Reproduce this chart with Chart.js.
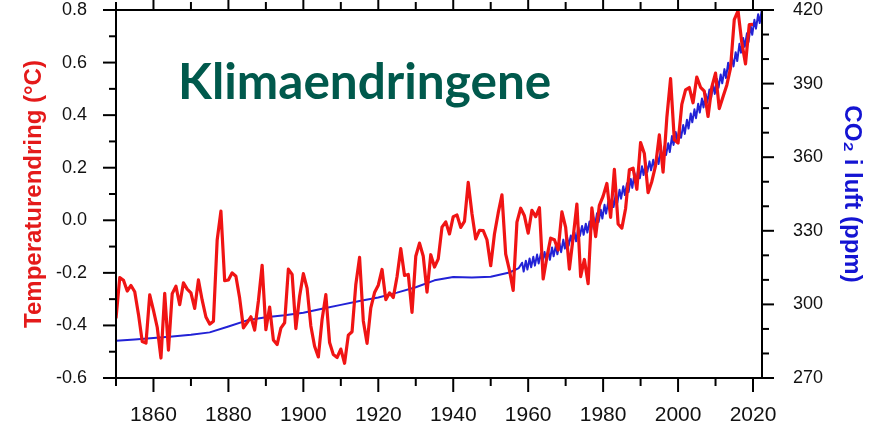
<!DOCTYPE html>
<html><head><meta charset="utf-8">
<script src="https://cdn.jsdelivr.net/npm/chart.js@4.4.1/dist/chart.umd.min.js"></script>
<style>html,body{margin:0;padding:0;background:#fff;overflow:hidden}#wrap{position:relative;width:874px;height:430px}</style>
</head><body><div id="wrap"><canvas id="c" width="874" height="430"></canvas></div>
<script>
// ---------- DATA ----------
const tempStartYear = 1850;
const tempValues = [
-0.373,-0.218,-0.228,-0.269,-0.248,-0.272,-0.358,-0.461,-0.467,-0.284,
-0.343,-0.407,-0.524,-0.278,-0.494,-0.279,-0.251,-0.321,-0.238,-0.262,
-0.276,-0.335,-0.227,-0.304,-0.368,-0.395,-0.384,-0.075,0.035,-0.230,
-0.227,-0.200,-0.213,-0.296,-0.409,-0.389,-0.367,-0.418,-0.307,-0.171,
-0.416,-0.330,-0.455,-0.473,-0.410,-0.390,-0.186,-0.206,-0.412,-0.289,
-0.203,-0.259,-0.402,-0.479,-0.520,-0.377,-0.283,-0.465,-0.511,-0.522,
-0.490,-0.544,-0.437,-0.424,-0.244,-0.141,-0.383,-0.468,-0.333,-0.275,
-0.247,-0.187,-0.302,-0.276,-0.294,-0.215,-0.108,-0.210,-0.206,-0.350,
-0.137,-0.087,-0.137,-0.273,-0.131,-0.178,-0.147,-0.026,-0.006,-0.052,
0.014,0.020,-0.027,-0.004,0.144,0.025,-0.071,-0.038,-0.039,-0.074,
-0.173,-0.052,0.028,0.097,-0.129,-0.190,-0.267,-0.007,0.046,0.017,
-0.049,0.038,0.014,0.048,-0.223,-0.140,-0.068,-0.074,-0.113,0.032,
-0.027,-0.186,-0.065,0.062,-0.214,-0.149,-0.241,0.047,-0.062,0.057,
0.092,0.140,0.011,0.194,-0.014,-0.030,0.045,0.192,0.198,0.118,
0.296,0.254,0.105,0.148,0.208,0.325,0.183,0.390,0.539,0.306,
0.294,0.441,0.496,0.505,0.447,0.545,0.506,0.491,0.395,0.506,
0.560,0.425,0.470,0.514,0.579,0.763,0.797,0.677,0.595,0.744,
0.745];

// ice-core CO2 (ppm)
const iceYears = [1850,1855,1860,1865,1870,1875,1880,1885,1890,1895,1900,1905,1910,1915,1920,1925,1930,1935,1940,1945,1950,1955,1957.5];
const iceCO2   = [285.2,285.7,286.3,286.9,287.6,288.6,291.0,293.5,294.8,295.6,296.6,298.2,299.8,301.4,302.8,304.8,307.0,309.8,311.2,311.0,311.3,313.0,314.8];

// Mauna Loa CO2: seasonal high (May) and low (Oct) per year, from 1958
const mloStartYear = 1958;
const mloHigh = [
317.0,317.8,318.7,319.4,320.3,320.8,321.4,321.8,323.2,324.0,
324.9,326.4,327.5,328.1,329.3,331.5,332.0,332.9,333.8,335.6,
337.2,338.6,340.6,341.9,343.3,345.0,346.7,348.2,349.4,351.1,
353.5,355.0,356.3,357.5,358.3,359.0,360.8,362.8,364.5,365.7,
368.6,370.3,371.5,373.1,375.3,377.8,379.5,381.8,383.9,385.8,
387.6,389.4,391.9,393.7,395.9,398.5,400.6,402.8,406.2,408.6,
410.5,413.5,416.0,418.3,420.4];
const mloLow = [
313.4,314.2,315.1,315.8,316.7,317.2,317.8,318.2,319.6,320.4,
321.3,322.8,323.9,324.5,325.7,327.9,328.4,329.3,330.2,332.0,
333.6,335.0,337.0,338.3,339.7,341.4,343.1,344.6,345.8,347.5,
349.9,351.4,352.7,353.9,354.7,355.4,357.2,359.2,360.9,362.1,
365.0,366.7,367.9,369.5,371.7,374.2,375.9,378.2,380.3,382.2,
384.0,385.8,388.3,390.1,392.3,394.9,397.0,399.2,402.6,405.0,
406.9,409.9,412.4,414.7,416.8];
const mloHighMonth = 5, mloLowMonth = 10;

const xTicks = [1860,1880,1900,1920,1940,1960,1980,2000,2020];
const yTempTicks = [-0.6,-0.4,-0.2,0.0,0.2,0.4,0.6,0.8];
const yCO2Ticks = [270,300,330,360,390,420];
const chartTitle = 'Klimaendringene';
const yTitle = 'Temperaturendring (°C)';
const y2Title = 'CO\u2082 i luft (ppm)';

// ---------- BUILD ----------
const tempData = tempValues.map((v,i)=>({x: tempStartYear+i, y: v}));
const co2Data = iceYears.map((yr,i)=>({x: yr, y: iceCO2[i]}));
mloHigh.forEach((v,i)=>{
  const yr = mloStartYear+i;
  co2Data.push({x: yr+(mloHighMonth-0.5)/12, y: v});
  co2Data.push({x: yr+(mloLowMonth-0.5)/12, y: mloLow[i]});
});

const F = "'Liberation Sans', Arial, Helvetica, sans-serif";
const tickColor = '#111';

const deco = {
  id: 'deco',
  afterDraw(chart){
    const {ctx, chartArea: a, scales} = chart;
    ctx.save();
    ctx.strokeStyle = '#000'; ctx.lineWidth = 2; ctx.lineCap = 'butt';
    const line = (x1,y1,x2,y2)=>{ctx.beginPath();ctx.moveTo(x1,y1);ctx.lineTo(x2,y2);ctx.stroke();};
    for (let k=-6;k<=8;k++){
      const y = scales.y.getPixelForValue(k/10);
      line(a.left-(k%2===0?13:7), y, a.left, y);
    }
    for (let v=270; v<=420; v+=10){
      const y = scales.y2.getPixelForValue(v);
      line(a.right, y, a.right+(v%30===0?12:7), y);
    }
    for (let yr=1850; yr<=2020; yr+=10){
      const x = scales.x.getPixelForValue(yr);
      const L = (yr%20===0)?14:8;
      line(x, a.bottom, x, a.bottom+L);
      line(x, a.top, x, a.top-L);
    }
    ctx.strokeRect(a.left, a.top, a.right-a.left, a.bottom-a.top);
    ctx.fillStyle = '#00594c';
    ctx.font = "bold 49.5px Lato, 'Open Sans', sans-serif";
    ctx.textAlign = 'left'; ctx.textBaseline = 'alphabetic';
    ctx.fillText(chartTitle, a.left+62, 99);
    ctx.restore();
  }
};

const fmt1 = v => (Math.abs(v)<1e-9 ? '0.0' : Number(v).toFixed(1));
const fitV = w => s => { s.width = w; s.paddingTop = 0; s.paddingBottom = 0; };

new Chart(document.getElementById('c'), {
  type: 'line',
  data: { datasets: [
    { label: 'Temperatur', data: tempData, xAxisID: 'x', yAxisID: 'y',
      borderColor: '#f01414', borderWidth: 3.2, pointRadius: 0, tension: 0,
      borderJoinStyle: 'round', fill: false },
    { label: 'CO2', data: co2Data, xAxisID: 'x', yAxisID: 'y2',
      borderColor: '#2222d6', borderWidth: 2, pointRadius: 0, tension: 0,
      borderJoinStyle: 'round', fill: false }
  ]},
  options: {
    responsive: false, animation: false, devicePixelRatio: 1,
    layout: { padding: { top: 10, left: 0, right: 0, bottom: 0 } },
    plugins: { legend: { display: false }, tooltip: { enabled: false }, title: { display: false } },
    scales: {
      x: { type: 'linear', position: 'bottom', min: 1850, max: 2022.4,
        afterBuildTicks: s => { s.ticks = xTicks.map(v=>({value:v})); },
        ticks: { font: { family: F, size: 21 }, color: tickColor, padding: 25, maxRotation: 0, autoSkip: false, callback: v => String(v) },
        grid: { display: false, drawTicks: false }, border: { display: false },
        afterFit: s => { s.height = 52; s.paddingLeft = 0; s.paddingRight = 0; } },
      y: { type: 'linear', position: 'left', min: -0.6, max: 0.8,
        afterBuildTicks: s => { s.ticks = yTempTicks.map(v=>({value:v})); },
        ticks: { font: { family: F, size: 18 }, color: tickColor, padding: 29, autoSkip: false, callback: fmt1 },
        grid: { display: false, drawTicks: false }, border: { display: false },
        title: { display: true, text: yTitle, color: '#e41a1a', font: { family: F, size: 24, weight: 'bold' }, padding: { top: 20, bottom: 0 } },
        afterFit: fitV(116) },
      y2: { type: 'linear', position: 'right', min: 270, max: 420,
        afterBuildTicks: s => { s.ticks = yCO2Ticks.map(v=>({value:v})); },
        ticks: { font: { family: F, size: 18 }, color: tickColor, padding: 31, autoSkip: false, callback: v => String(v) },
        grid: { display: false, drawTicks: false }, border: { display: false },
        title: { display: true, text: y2Title, color: '#1414d2', font: { family: F, size: 24, weight: 'bold' }, padding: { top: 8, bottom: 0 } },
        afterFit: fitV(112) }
    }
  },
  plugins: [deco]
});
</script></body></html>
